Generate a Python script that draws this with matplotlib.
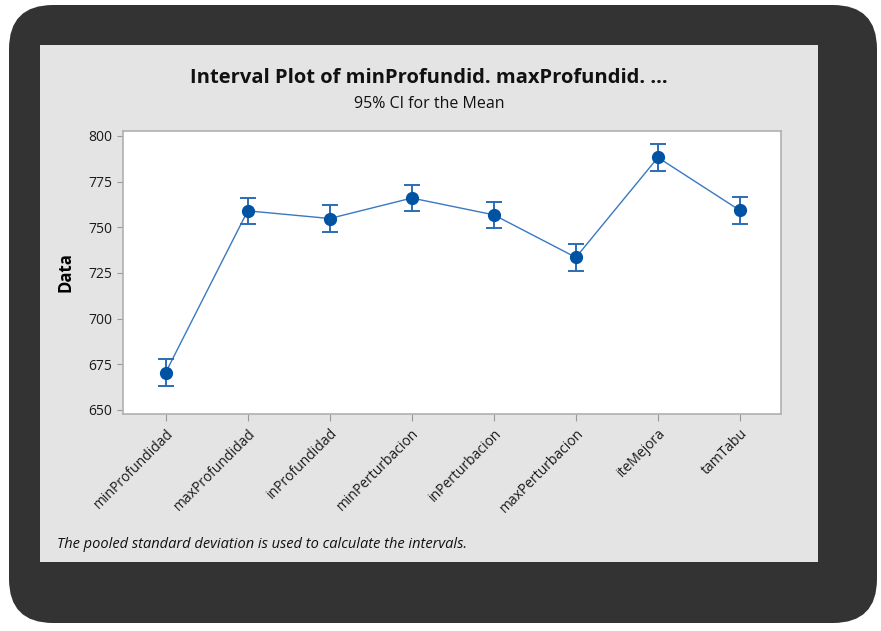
import matplotlib
matplotlib.use("Agg")
import matplotlib.pyplot as plt
from matplotlib.patches import FancyBboxPatch, Rectangle

# data
labels = ["minProfundidad", "maxProfundidad", "inProfundidad", "minPerturbacion",
          "inPerturbacion", "maxPerturbacion", "iteMejora", "tamTabu"]
means = [670.5, 759.0, 754.8, 766.0, 756.8, 733.5, 788.2, 759.2]
ci_half = [7.3, 7.2, 7.2, 7.2, 7.2, 7.2, 7.2, 7.2]
yticks = [650, 675, 700, 725, 750, 775, 800]

plt.rcParams["font.family"] = ["Open Sans", "DejaVu Sans"]

W, H = 881, 631
fig = plt.figure(figsize=(W / 100, H / 100), dpi=100)
fig.patch.set_facecolor("white")

# dark rounded frame round the panel
frame = FancyBboxPatch((9 / W, 8 / H), 868 / W, 618 / H,
                       boxstyle="round,pad=0,rounding_size=0.05",
                       transform=fig.transFigure, facecolor="#333333",
                       edgecolor="none", mutation_aspect=W / H, zorder=-2)
fig.patches.append(frame)
# light grey panel
panel = Rectangle((40 / W, 1 - 562 / H), 778 / W, 517 / H,
                  transform=fig.transFigure, facecolor="#e4e4e4", edgecolor="none",
                  zorder=-1)
fig.patches.append(panel)

ax = fig.add_axes([123 / W, 1 - 414 / H, 658 / W, 283 / H])
ax.set_zorder(1)
ax.set_facecolor("white")
x = list(range(len(labels)))
ax.plot(x, means, color="#3a78c2", linewidth=1.0, zorder=2)
ax.errorbar(x, means, yerr=ci_half, fmt="o", color="#0052a3", ecolor="#2a6cb8",
            markersize=8.5, elinewidth=1.4, capsize=6, capthick=1.4, zorder=3)

ax.set_xlim(-0.52, 7.5)
ax.set_ylim(647.8, 802.7)
ax.set_yticks(yticks)
ax.set_xticks(x)
ax.set_xticklabels(labels, rotation=45, ha="right", rotation_mode="anchor",
                   fontsize=10, color="#1a1a1a")
ax.tick_params(axis="y", labelsize=10, colors="#1a1a1a", length=4, color="#999999")
ax.tick_params(axis="x", length=5, color="#999999")
for s in ax.spines.values():
    s.set_color("#b0b0b0")
    s.set_linewidth(1.2)

ax.set_ylabel("Data", fontsize=12, fontweight="bold", labelpad=10)

fig.text(429 / W, 1 - 78 / H, "Interval Plot of minProfundid. maxProfundid. ...",
         ha="center", va="center", fontsize=14.5, fontweight="bold", color="#111111")
fig.text(429 / W, 1 - 104 / H, "95% CI for the Mean", ha="center", va="center",
         fontsize=11.5, color="#111111")
fig.text(57 / W, 1 - 545 / H, "The pooled standard deviation is used to calculate the intervals.",
         ha="left", va="center", fontsize=10.5, style="italic", color="#111111")

fig.savefig("out.png", dpi=100, facecolor="white")
